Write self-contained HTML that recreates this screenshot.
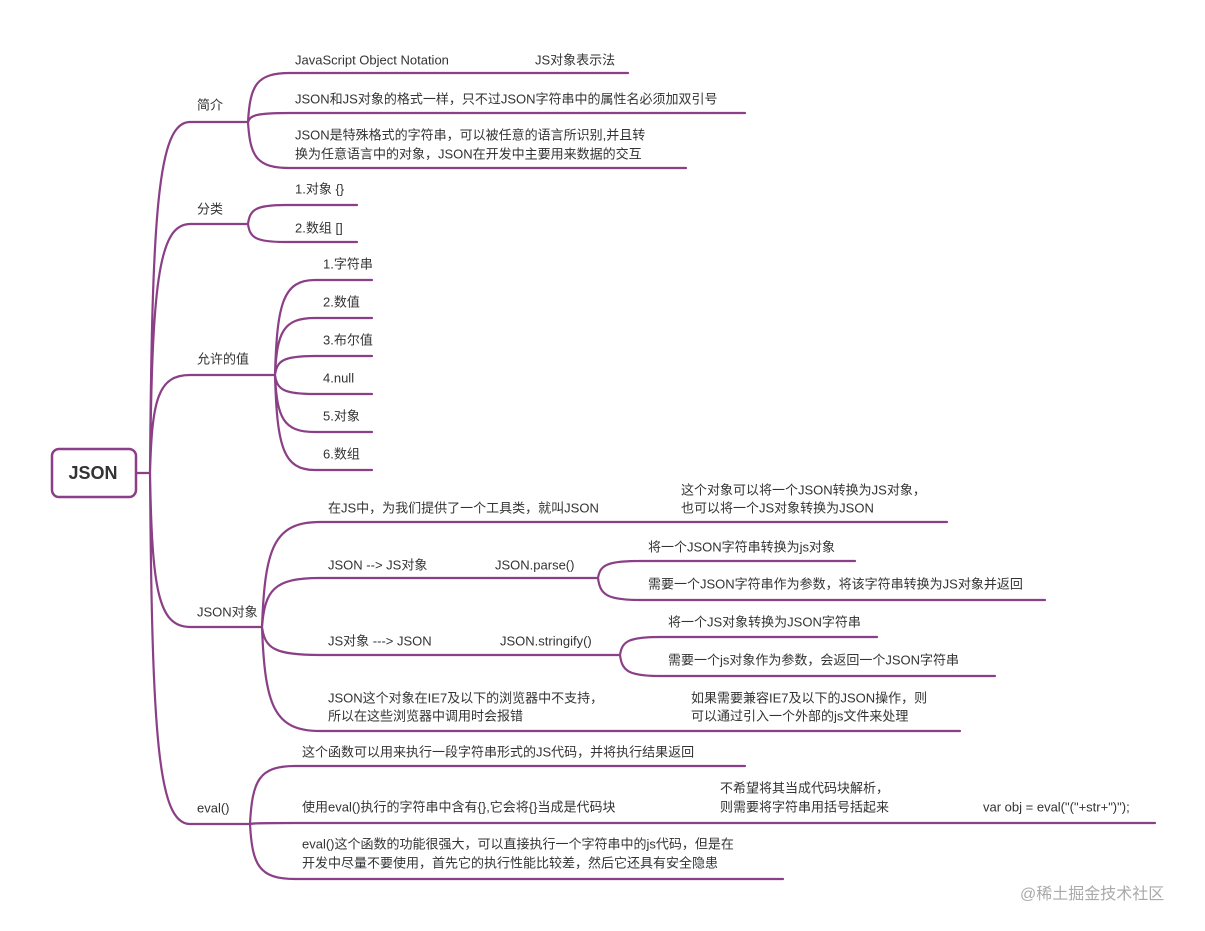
<!DOCTYPE html>
<html><head><meta charset="utf-8"><style>
html,body{margin:0;padding:0;background:#fff;}
svg{display:block}
text{font-family:"Liberation Sans","Noto Sans CJK SC",sans-serif;font-size:13px;fill:#333;dominant-baseline:middle}
</style></head><body>
<svg id="s" width="1205" height="931" viewBox="0 0 1205 931" xmlns="http://www.w3.org/2000/svg">
<g id="lines" fill="none" stroke="#8a3f86" stroke-width="2.2" stroke-linecap="round"></g>
<rect x="52" y="449" width="84" height="48" rx="7" fill="#fff" stroke="#8a3f86" stroke-width="2.5"/>
<text x="93" y="474" text-anchor="middle" style="font-size:18px;font-weight:bold;fill:#333">JSON</text>
<g>
<text x="197" y="106">简介</text>
<text x="197" y="210">分类</text>
<text x="197" y="360">允许的值</text>
<text x="197" y="613">JSON对象</text>
<text x="197" y="809">eval()</text>

<text x="295" y="61">JavaScript Object Notation</text>
<text x="535" y="61">JS对象表示法</text>
<text x="295" y="100">JSON和JS对象的格式一样，只不过JSON字符串中的属性名必须加双引号</text>
<text x="295" y="136">JSON是特殊格式的字符串，可以被任意的语言所识别,并且转</text>
<text x="295" y="155">换为任意语言中的对象，JSON在开发中主要用来数据的交互</text>

<text x="295" y="190">1.对象 {}</text>
<text x="295" y="229">2.数组 []</text>

<text x="323" y="265">1.字符串</text>
<text x="323" y="303">2.数值</text>
<text x="323" y="341">3.布尔值</text>
<text x="323" y="379">4.null</text>
<text x="323" y="417">5.对象</text>
<text x="323" y="455">6.数组</text>

<text x="328" y="509">在JS中，为我们提供了一个工具类，就叫JSON</text>
<text x="681" y="491">这个对象可以将一个JSON转换为JS对象，</text>
<text x="681" y="509">也可以将一个JS对象转换为JSON</text>
<text x="328" y="566">JSON --&gt; JS对象</text>
<text x="495" y="566">JSON.parse()</text>
<text x="648" y="548">将一个JSON字符串转换为js对象</text>
<text x="648" y="585">需要一个JSON字符串作为参数，将该字符串转换为JS对象并返回</text>
<text x="328" y="642">JS对象 ---&gt; JSON</text>
<text x="500" y="642">JSON.stringify()</text>
<text x="668" y="623">将一个JS对象转换为JSON字符串</text>
<text x="668" y="661">需要一个js对象作为参数，会返回一个JSON字符串</text>
<text x="328" y="699">JSON这个对象在IE7及以下的浏览器中不支持，</text>
<text x="328" y="717">所以在这些浏览器中调用时会报错</text>
<text x="691" y="699">如果需要兼容IE7及以下的JSON操作，则</text>
<text x="691" y="717">可以通过引入一个外部的js文件来处理</text>

<text x="302" y="753">这个函数可以用来执行一段字符串形式的JS代码，并将执行结果返回</text>
<text x="302" y="808">使用eval()执行的字符串中含有{},它会将{}当成是代码块</text>
<text x="720" y="789">不希望将其当成代码块解析，</text>
<text x="720" y="808">则需要将字符串用括号括起来</text>
<text x="983" y="808">var obj = eval("("+str+")");</text>
<text x="302" y="845">eval()这个函数的功能很强大，可以直接执行一个字符串中的js代码，但是在</text>
<text x="302" y="864">开发中尽量不要使用，首先它的执行性能比较差，然后它还具有安全隐患</text>

<text x="1020" y="895" style="font-size:16px;fill:#aaa">@稀土掘金技术社区</text>
</g>
</svg>
<script>
var g=document.getElementById('lines'),d='M136,473 L150,473 ';
function br(x0,y0,x1,y1,x2){var w=x1-x0;
d+='M'+x0+','+y0+' C'+(x0+w*0.05)+','+(y0+(y1-y0)*0.75)+' '+(x0+w*0.2)+','+y1+' '+x1+','+y1+' L'+x2+','+y1+' ';}
br(150,473,190,122,248);br(150,473,190,224,248);br(150,473,190,375,275);br(150,473,190,627,262);br(150,473,190,824,250);
br(248,122,290,73,628);br(248,122,290,113,745);br(248,122,290,168,686);
br(248,224,285,205,357);br(248,224,285,242,357);
[280,318,356,394,432,470].forEach(function(y){br(275,375,315,y,372);});
br(262,627,320,522,947);br(262,627,320,578,598);br(262,627,320,655,620);br(262,627,320,731,960);
br(598,578,640,561,855);br(598,578,640,600,1045);
br(620,655,660,637,877);br(620,655,660,676,995);
br(250,824,295,766,745);br(250,824,295,823,1155);br(250,824,295,879,783);
var p=document.createElementNS('http://www.w3.org/2000/svg','path');p.setAttribute('d',d);g.appendChild(p);
</script>
</body></html>
